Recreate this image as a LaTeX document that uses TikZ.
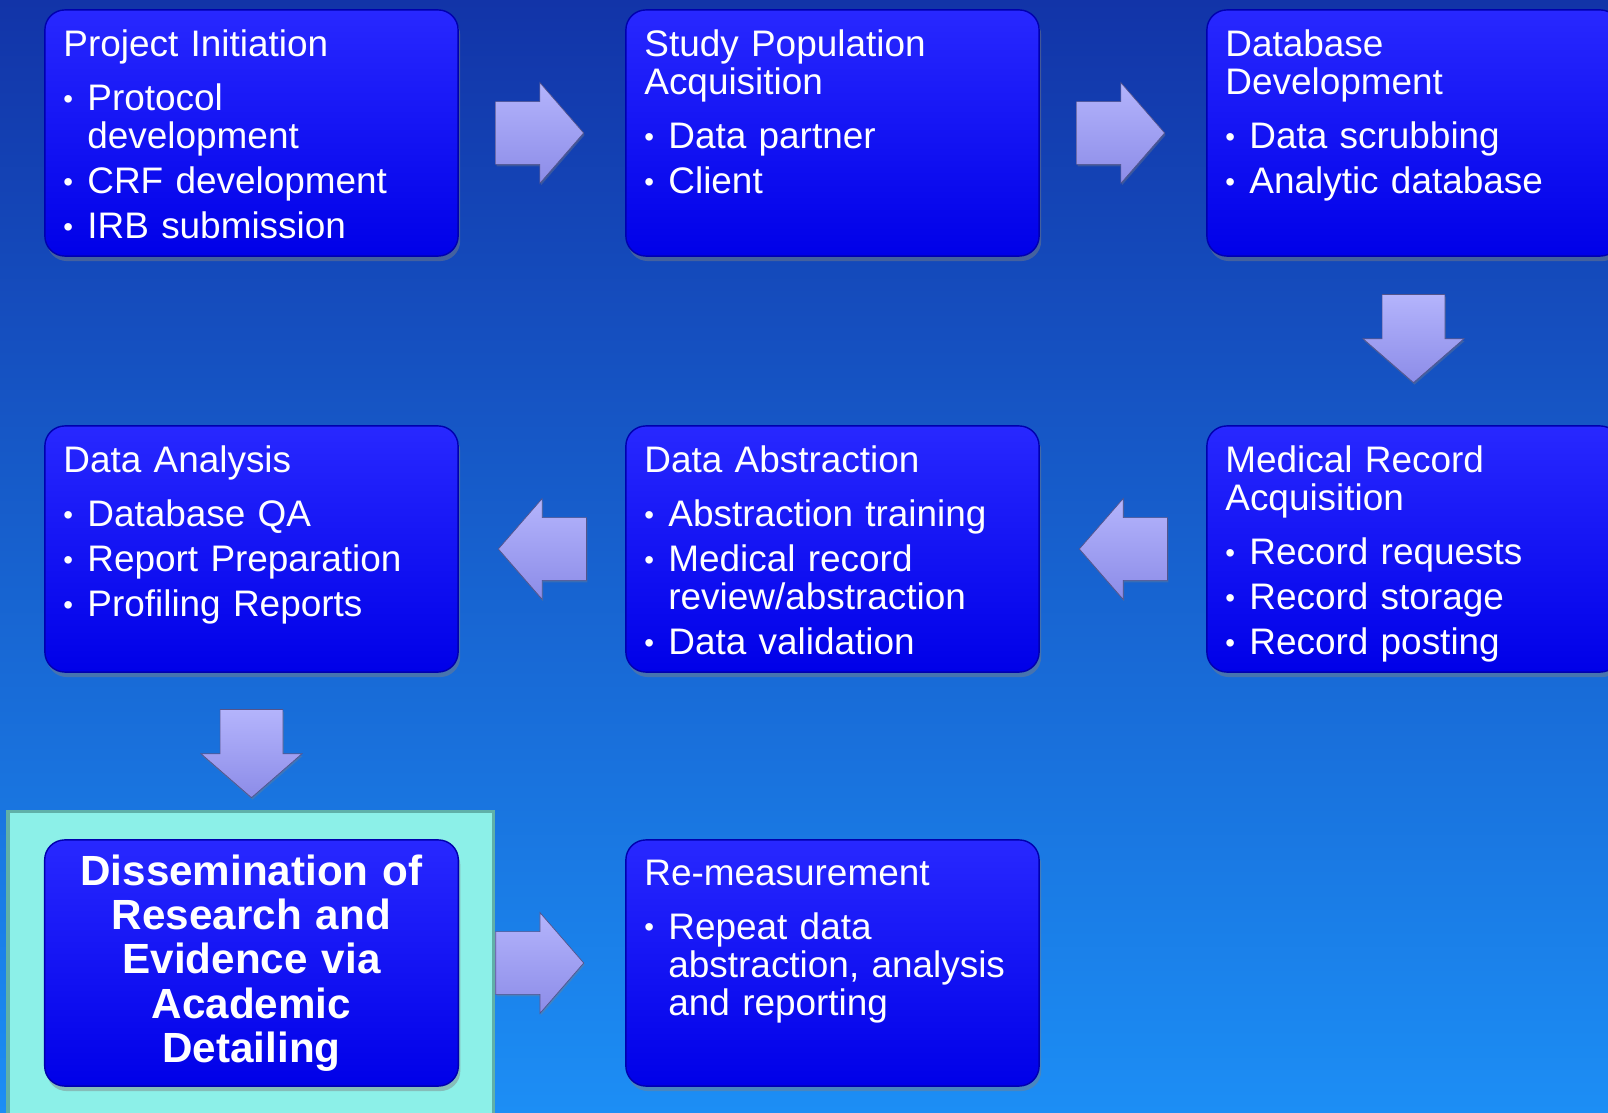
\documentclass[tikz,border=0pt]{standalone}
\usepackage{fontspec}
\usepackage{graphicx}
\setmainfont{Liberation Sans}
\usetikzlibrary{shapes.geometric, shapes.arrows, shadows, calc}
\definecolor{bgtop}{RGB}{18,52,168}
\definecolor{bgbot}{RGB}{28,142,245}
\definecolor{boxtop}{RGB}{40,40,255}
\definecolor{boxmid}{RGB}{0,0,244}
\definecolor{boxbot}{RGB}{0,0,232}
\definecolor{lavtop}{RGB}{180,180,252}
\definecolor{lavbot}{RGB}{140,140,232}
\definecolor{hilite}{RGB}{140,240,232}
\definecolor{hiliteline}{RGB}{96,176,168}
\tikzstyle{stage} = [rectangle, rounded corners=0.2cm, minimum width=4.13cm, minimum height=2.46cm, top color=boxtop, middle color=boxmid, bottom color=boxbot, draw=boxbot!75!black, thin, drop shadow={shadow xshift=0.02cm, shadow yshift=-0.05cm, opacity=0.45}]
\tikzstyle{stagetext} = [anchor=north west, text width=3.9cm, inner sep=0pt, align=left, text=white, font=\fontsize{10.5}{10.8}\selectfont]
\tikzstyle{flow} = [single arrow, single arrow head extend=0.19cm, single arrow tip angle=98, minimum height=0.88cm, minimum width=1.0cm, top color=lavtop, bottom color=lavbot, draw=lavbot!60!black, very thin, drop shadow={shadow xshift=0.01cm, shadow yshift=-0.02cm, opacity=0.35}]
\tikzstyle{flowright} = [flow, inner xsep=0pt, inner ysep=0.31cm, xshift=-0.16cm]
\tikzstyle{flowleft} = [flow, inner xsep=0pt, inner ysep=0.31cm, shape border rotate=180, xshift=0.14cm]
\tikzstyle{flowdown} = [flow, inner xsep=0.31cm, inner ysep=0pt, shape border rotate=270, yshift=0.16cm]
\newcommand{\bul}[1]{\par\vspace{2pt}\hangindent=0.24cm\hangafter=1\makebox[0.24cm][l]{\raisebox{0.12ex}{\scalebox{0.75}{\textbullet}}}#1\par}
\newcommand{\stagehead}[1]{#1\par\vspace{2.5pt}}

\begin{document}
\begin{tikzpicture}[x=0.01cm, y=-0.01cm]

\useasboundingbox (0,0) rectangle (1608,1113);
\clip (0,0) rectangle (1608,1113);
\fill[top color=bgtop, bottom color=bgbot] (0,0) rectangle (1608,1113);
\draw[fill=hilite, draw=hiliteline, line width=0.03cm] (8,812) rectangle (493,1130);

% boxes
\node at (251.5, 133) (init) [stage] {};
\node at (832.5, 133) (popul) [stage] {};
\node at (1413.5, 133) (dbdev) [stage] {};
\node at (1413.5, 549) (medrec) [stage] {};
\node at (832.5, 549) (abstr) [stage] {};
\node at (251.5, 549) (analys) [stage] {};
\node at (251.5, 963) (dissem) [stage, text width=3.9cm, align=center, text=white, font=\bfseries\fontsize{12}{12.6}\selectfont] {Dissemination of\\ Research and\\ Evidence via\\ Academic\\ Detailing};
\node at (832.5, 963) (remeas) [stage] {};

% box texts
\node at ([xshift=0.185cm, yshift=-0.2cm]init.north west) (init-t) [stagetext] {\stagehead{Project Initiation}\bul{Protocol\newline development}\bul{CRF development}\bul{IRB submission}};
\node at ([xshift=0.185cm, yshift=-0.2cm]popul.north west) (popul-t) [stagetext] {\stagehead{Study Population\newline Acquisition}\bul{Data partner}\bul{Client}};
\node at ([xshift=0.185cm, yshift=-0.2cm]dbdev.north west) (dbdev-t) [stagetext] {\stagehead{Database\newline Development}\bul{Data scrubbing}\bul{Analytic database}};
\node at ([xshift=0.185cm, yshift=-0.2cm]medrec.north west) (medrec-t) [stagetext] {\stagehead{Medical Record\newline Acquisition}\bul{Record requests}\bul{Record storage}\bul{Record posting}};
\node at ([xshift=0.185cm, yshift=-0.2cm]abstr.north west) (abstr-t) [stagetext] {\stagehead{Data Abstraction}\bul{Abstraction training}\bul{Medical record\newline review/abstraction}\bul{Data validation}};
\node at ([xshift=0.185cm, yshift=-0.2cm]analys.north west) (analys-t) [stagetext] {\stagehead{Data Analysis}\bul{Database QA}\bul{Report Preparation}\bul{Profiling Reports}};
\node at ([xshift=0.185cm, yshift=-0.2cm]remeas.north west) (remeas-t) [stagetext] {\stagehead{Re-measurement}\bul{Repeat data\newline abstraction, analysis\newline and reporting}};

% block arrows
\node at ($(init.east)!0.5!(popul.west)$) (a12) [flowright] {};
\node at ($(popul.east)!0.5!(dbdev.west)$) (a23) [flowright] {};
\node at ($(dbdev.south)!0.5!(medrec.north)$) (a34) [flowdown] {};
\node at ($(medrec.west)!0.5!(abstr.east)$) (a45) [flowleft] {};
\node at ($(abstr.west)!0.5!(analys.east)$) (a56) [flowleft] {};
\node at ($(analys.south)!0.5!(dissem.north)$) (a67) [flowdown] {};
\node at ($(dissem.east)!0.5!(remeas.west)$) (a78) [flowright] {};

\end{tikzpicture}
\end{document}
